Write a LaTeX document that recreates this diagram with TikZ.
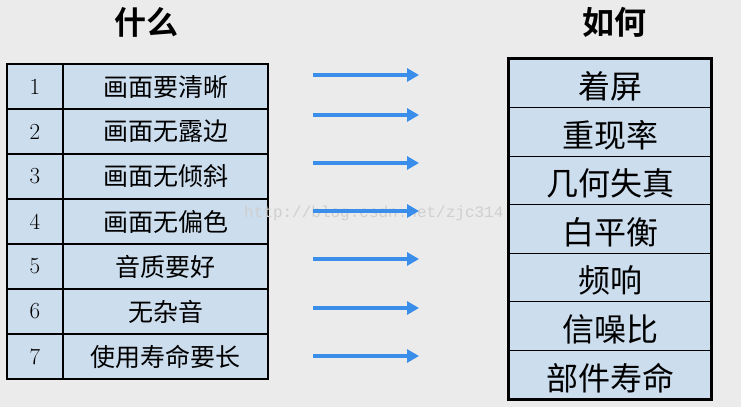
\documentclass[tikz,border=0pt]{standalone}
\usepackage{fontspec}
\newfontfamily\cjk{Noto Sans CJK SC}
\newfontfamily\cjkb{Noto Sans CJK SC Bold}
\newfontfamily\wmfont{Liberation Mono}
\usetikzlibrary{arrows.meta}
\definecolor{bg}{HTML}{EBEBEB}
\definecolor{cellblue}{HTML}{CCDDEE}
\definecolor{arrowblue}{HTML}{3A8EEA}
\definecolor{wm}{HTML}{CFCFCF}
\tikzset{
  lcell/.style={draw=black, line width=2.2pt, fill=cellblue, minimum height=45pt, inner sep=0pt},
  numcell/.style={lcell, minimum width=56pt, font=\fontsize{23}{23}\selectfont},
  txtcell/.style={lcell, minimum width=205pt, font=\cjk\fontsize{25}{25}\selectfont},
  rcell/.style={draw=black, line width=1.2pt, fill=cellblue, minimum width=202pt, minimum height=48.57pt, inner sep=0pt, font=\cjk\fontsize{32}{32}\selectfont},
  rtext/.style={font=\cjk\fontsize{32}{32}\selectfont, inner sep=0pt},
  header/.style={font=\cjkb\fontsize{32}{32}\selectfont},
  flow/.style={draw=arrowblue, line width=4pt, -{Triangle[length=12pt,width=13pt]}}
}
\begin{document}
\begin{tikzpicture}[x=1pt,y=-1pt]
\fill[bg] (0,0) rectangle (741,407);
\useasboundingbox (0,0) rectangle (741,407);
\node[header] (h1) at (146,22) {什么};
\node[header] (h2) at (614,22) {如何};
% left table
\foreach \i/\t in {1/画面要清晰,2/画面无露边,3/画面无倾斜,4/画面无偏色,5/音质要好,6/无杂音,7/使用寿命要长}{
  \node[numcell] (n\i) at (35,{86.5+45*(\i-1)}) {\i};
  \node[txtcell] (t\i) at (165.5,{86.5+45*(\i-1)}) {\t};
}
% watermark
\node[font=\wmfont\fontsize{16}{16}\selectfont, text=wm, anchor=west, inner sep=0pt] (wmk) at (244,213) {http://blog.csdn.net/zjc314};
% right table
\foreach \i/\t in {1/着屏,2/重现率,3/几何失真,4/白平衡,5/频响,6/信噪比,7/部件寿命}{
  \node[rcell] (r\i) at (610,{83.3+48.57*(\i-1)}) {};
  \node[rtext] (rt\i) at ([yshift=-3pt]r\i.center) {\t};
}
\draw[line width=2.4pt] (r1.north west) rectangle (r7.south east);
% arrows
\foreach \i/\y in {1/75,2/115,3/163,4/211,5/259,6/308,7/356}{
  \coordinate (a\i) at (313,\y);
  \coordinate (b\i) at (419,\y);
  \draw[flow] (a\i) -- (b\i);
}
\end{tikzpicture}
\end{document}
